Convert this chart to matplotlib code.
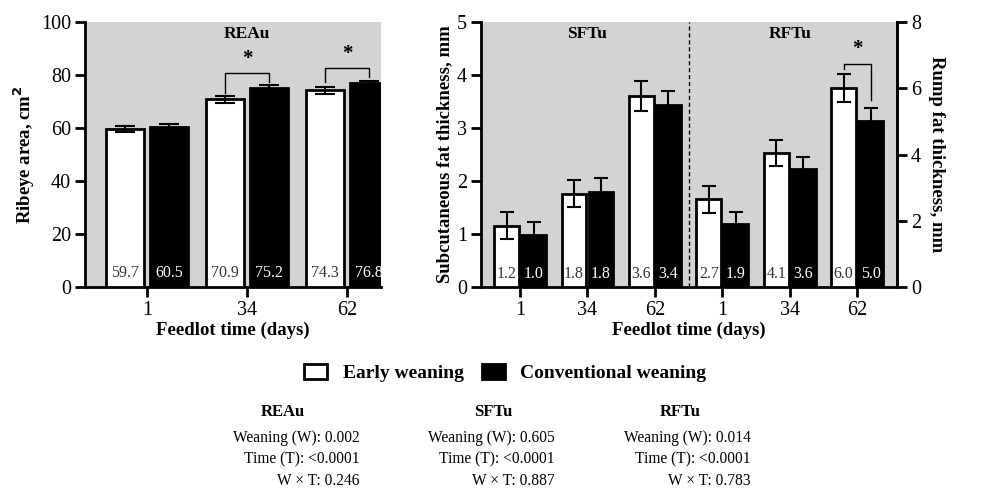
import matplotlib
matplotlib.use("Agg")
import matplotlib.pyplot as plt
from matplotlib.patches import Patch
import numpy as np

plt.rcParams['font.family'] = ['Liberation Serif', 'DejaVu Serif']

days = ['1', '34', '62']

# REAu, cm2
rea_early = [59.7, 70.9, 74.3]
rea_early_err = [1.2, 1.3, 1.3]
rea_conv = [60.5, 75.2, 76.8]
rea_conv_err = [1.1, 1.1, 1.1]

# SFTu, mm (left axis)
sft_early = [1.16, 1.76, 3.60]
sft_early_err = [0.26, 0.26, 0.28]
sft_conv = [0.98, 1.80, 3.43]
sft_conv_err = [0.25, 0.26, 0.27]
sft_early_lbl = ['1.2', '1.8', '3.6']
sft_conv_lbl = ['1.0', '1.8', '3.4']

# RFTu, mm (right axis)
rft_early = [2.65, 4.04, 6.01]
rft_early_err = [0.41, 0.40, 0.43]
rft_conv = [1.89, 3.56, 5.02]
rft_conv_err = [0.37, 0.36, 0.37]
rft_early_lbl = ['2.7', '4.1', '6.0']
rft_conv_lbl = ['1.9', '3.6', '5.0']

stats = {
    'REAu': ['Weaning (W): 0.002', 'Time (T): <0.0001', 'W \u00d7 T: 0.246'],
    'SFTu': ['Weaning (W): 0.605', 'Time (T): <0.0001', 'W \u00d7 T: 0.887'],
    'RFTu': ['Weaning (W): 0.014', 'Time (T): <0.0001', 'W \u00d7 T: 0.783'],
}

gray = '#d3d3d3'
fs_tick = 14.5
fs_lab = 13.5
fs_val = 11.5

fig = plt.figure(figsize=(9.87, 4.88), dpi=100)
axL = fig.add_axes([0.0861, 0.4119, 0.3000, 0.5430])
axR = fig.add_axes([0.4873, 0.4119, 0.4215, 0.5430])
axR2 = axR.twinx()


def style(ax, sides):
    ax.set_facecolor(gray)
    for s in ['left', 'right', 'top', 'bottom']:
        ax.spines[s].set_visible(s in sides)
        ax.spines[s].set_linewidth(2)
    ax.tick_params(width=2, length=7, labelsize=fs_tick, direction='out', pad=3)


def bars(ax, xs, early, e_err, conv, c_err, e_lbl, c_lbl, off, w, cap, ylab):
    xs = np.asarray(xs, dtype=float)
    ax.bar(xs - off, early, w, color='white', edgecolor='black', linewidth=2, zorder=3)
    ax.bar(xs + off, conv, w, color='black', edgecolor='black', linewidth=2, zorder=3)
    ax.errorbar(xs - off, early, yerr=e_err, fmt='none', ecolor='black',
                elinewidth=1.5, capsize=cap, capthick=1.5, zorder=4)
    ax.errorbar(xs + off, conv, yerr=c_err, fmt='none', ecolor='black',
                elinewidth=1.5, capsize=cap, capthick=1.5, zorder=4)
    for x, t in zip(xs - off, e_lbl):
        ax.text(x, ylab, t, ha='center', va='bottom', fontsize=fs_val, color='#333333', zorder=5)
    for x, t in zip(xs + off, c_lbl):
        ax.text(x, ylab, t, ha='center', va='bottom', fontsize=fs_val, color='white', zorder=5)


def bracket(ax, x1, x2, y_top, y1, y2, y_star):
    ax.plot([x1, x1, x2, x2], [y1, y_top, y_top, y2], color='black', lw=1, zorder=5)
    ax.text((x1 + x2) / 2, y_star, '*', ha='center', va='center', fontsize=15,
            fontweight='bold', zorder=5)


# ---- left panel: ribeye area
style(axL, ['left', 'bottom'])
xl = np.arange(3)
bars(axL, xl, rea_early, rea_early_err, rea_conv, rea_conv_err,
     [f'{v:.1f}' for v in rea_early], [f'{v:.1f}' for v in rea_conv],
     0.22, 0.38, 7, 2.3)
axL.set_xlim(-0.62, 2.34)
axL.set_ylim(0, 100)
axL.set_yticks([0, 20, 40, 60, 80, 100])
axL.set_xticks(xl)
axL.set_xticklabels(days)
axL.set_ylabel('Ribeye area, cm$^{\\mathbf{2}}$', fontsize=fs_lab, fontweight='bold', labelpad=3)
axL.set_xlabel('Feedlot time (days)', fontsize=fs_lab, fontweight='bold', labelpad=1)
axL.text(1, 95.5, 'REAu', ha='center', va='center', fontsize=12.5, fontweight='bold')
bracket(axL, 1 - 0.22, 1 + 0.22, 80.6, 73.1, 77.5, 85.9)
bracket(axL, 2 - 0.22, 2 + 0.22, 82.5, 77.2, 79.4, 87.9)

# ---- right panel: SFTu (left axis) and RFTu (right axis)
style(axR, ['left', 'right', 'bottom'])
axR2.set_facecolor('none')
for s in ['left', 'right', 'top', 'bottom']:
    axR2.spines[s].set_visible(s == 'right')
    axR2.spines[s].set_linewidth(2)
axR2.tick_params(width=2, length=7, labelsize=fs_tick, pad=3)

xs_sft = np.arange(3)
xs_rft = np.arange(3) + 3
bars(axR, xs_sft, sft_early, sft_early_err, sft_conv, sft_conv_err,
     sft_early_lbl, sft_conv_lbl, 0.2, 0.37, 5, 0.1)
bars(axR2, xs_rft, rft_early, rft_early_err, rft_conv, rft_conv_err,
     rft_early_lbl, rft_conv_lbl, 0.2, 0.37, 5, 0.16)
axR.set_xlim(-0.58, 5.59)
axR.set_ylim(0, 5)
axR2.set_ylim(0, 8)
axR.set_yticks([0, 1, 2, 3, 4, 5])
axR2.set_yticks([0, 2, 4, 6, 8])
axR.set_xticks(np.arange(6))
axR.set_xticklabels(days + days)
axR.axvline(2.51, color='black', lw=1, ls=(0, (3, 2)), zorder=2)
axR.set_ylabel('Subcutaneous fat thickness, mm', fontsize=fs_lab, fontweight='bold', labelpad=3)
axR2.set_ylabel('Rump fat thickness, mm', fontsize=fs_lab, fontweight='bold',
                rotation=270, labelpad=17)
axR.set_xlabel('Feedlot time (days)', fontsize=fs_lab, fontweight='bold', labelpad=1)
axR.text(1, 4.77, 'SFTu', ha='center', va='center', fontsize=12.5, fontweight='bold')
axR.text(4, 4.77, 'RFTu', ha='center', va='center', fontsize=12.5, fontweight='bold')
bracket(axR2, 5 - 0.2, 5 + 0.2, 6.73, 6.58, 5.66, 7.2)
axR2.set_zorder(axR.get_zorder() + 1)

# ---- legend
handles = [Patch(facecolor='white', edgecolor='black', linewidth=2, label='Early weaning'),
           Patch(facecolor='black', edgecolor='black', linewidth=2, label='Conventional weaning')]
fig.legend(handles=handles, loc='center', bbox_to_anchor=(0.512, 0.236), ncol=2,
           frameon=False, prop={'weight': 'bold', 'size': 14}, handlelength=1.2,
           handleheight=0.8, columnspacing=0.9, handletextpad=0.8)

# ---- stats block
heads_x = [283, 493, 680]
right_x = [360, 555, 751]
for (name, lines), hx, rx in zip(stats.items(), heads_x, right_x):
    fig.text(hx / 987, 1 - 412 / 488, name, ha='center', va='center',
             fontsize=12, fontweight='bold')
    for i, ln in enumerate(lines):
        fig.text(rx / 987, 1 - (438 + 21.5 * i) / 488, ln, ha='right', va='center', fontsize=11.2)

fig.savefig('out.png', dpi=100)
